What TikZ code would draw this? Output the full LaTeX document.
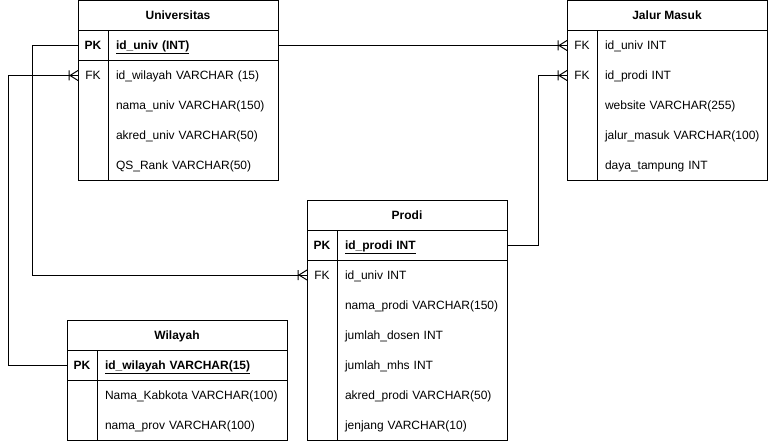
\documentclass[tikz,border=0pt,12pt]{standalone}
\usepackage{fontspec}
\setmainfont{Liberation Sans}
\usetikzlibrary{positioning}

\tikzset{
  crow/.pic={\draw (-9,-5) -- (-9,5) (-8,0) -- (0,-5) (-8,0) -- (0,5);}
}

\begin{document}
\begin{tikzpicture}[x=1pt,y=-1pt,line width=1pt,node distance=0pt,
    every node/.style={inner sep=0pt,outer sep=0pt,text height=10pt,text depth=2pt},
    head/.style={draw,anchor=north west,minimum width=200pt,minimum height=30pt,font=\bfseries},
    keyc/.style={minimum width=30pt,minimum height=30pt},
    fieldc/.style={minimum height=30pt,inner xsep=8pt,text width=154pt,align=left},
    wide/.style={text width=174pt}]
  \useasboundingbox (0,0) rectangle (768,441);

  % Universitas
  \node[head] (univ) at (78,0.5) {Universitas};
  \node[keyc,anchor=north west,font=\bfseries] (univ-pk-k) at (univ.south west) {PK};
  \node[fieldc] (univ-pk) [right=of univ-pk-k] {\textbf{\underline{id\_univ (INT)}}};
  \node[keyc]   (univ-f1-k) [below=of univ-pk-k] {FK};
  \node[fieldc] (univ-f1) [right=of univ-f1-k] {id\_wilayah VARCHAR (15)};
  \node[fieldc] (univ-f2) [below=of univ-f1] {nama\_univ VARCHAR(150)};
  \node[fieldc] (univ-f3) [below=of univ-f2] {akred\_univ VARCHAR(50)};
  \node[fieldc] (univ-f4) [below=of univ-f3] {QS\_Rank VARCHAR(50)};
  \draw (univ.south west) rectangle (univ-f4.south east);
  \draw (univ-pk-k.south west) -- (univ-pk.south east);
  \draw (univ-pk.north west) -- (univ-f4.south west);

  % Jalur Masuk
  \node[head] (jalur) at (567,0.5) {Jalur Masuk};
  \node[keyc,anchor=north west] (jalur-f1-k) at (jalur.south west) {FK};
  \node[fieldc] (jalur-f1) [right=of jalur-f1-k] {id\_univ INT};
  \node[keyc]   (jalur-f2-k) [below=of jalur-f1-k] {FK};
  \node[fieldc] (jalur-f2) [right=of jalur-f2-k] {id\_prodi INT};
  \node[fieldc] (jalur-f3) [below=of jalur-f2] {website VARCHAR(255)};
  \node[fieldc] (jalur-f4) [below=of jalur-f3] {\mbox{jalur\_masuk VARCHAR(100)}};
  \node[fieldc] (jalur-f5) [below=of jalur-f4] {daya\_tampung INT};
  \draw (jalur.south west) rectangle (jalur-f5.south east);
  \draw (jalur-f1.north west) -- (jalur-f5.south west);

  % Prodi
  \node[head] (prodi) at (307,200) {Prodi};
  \node[keyc,anchor=north west,font=\bfseries] (prodi-pk-k) at (prodi.south west) {PK};
  \node[fieldc] (prodi-pk) [right=of prodi-pk-k] {\textbf{\underline{id\_prodi INT}}};
  \node[keyc]   (prodi-f1-k) [below=of prodi-pk-k] {FK};
  \node[fieldc] (prodi-f1) [right=of prodi-f1-k] {id\_univ INT};
  \node[fieldc] (prodi-f2) [below=of prodi-f1] {nama\_prodi VARCHAR(150)};
  \node[fieldc] (prodi-f3) [below=of prodi-f2] {jumlah\_dosen INT};
  \node[fieldc] (prodi-f4) [below=of prodi-f3] {jumlah\_mhs INT};
  \node[fieldc] (prodi-f5) [below=of prodi-f4] {akred\_prodi VARCHAR(50)};
  \node[fieldc] (prodi-f6) [below=of prodi-f5] {jenjang VARCHAR(10)};
  \draw (prodi.south west) rectangle (prodi-f6.south east);
  \draw (prodi-pk-k.south west) -- (prodi-pk.south east);
  \draw (prodi-pk.north west) -- (prodi-f6.south west);

  % Wilayah
  \node[head,minimum width=220pt] (wil) at (67,320) {Wilayah};
  \node[keyc,anchor=north west,font=\bfseries] (wil-pk-k) at (wil.south west) {PK};
  \node[fieldc,wide] (wil-pk) [right=of wil-pk-k] {\textbf{\underline{id\_wilayah VARCHAR(15)}}};
  \node[fieldc,wide] (wil-f1) [below=of wil-pk] {Nama\_Kabkota VARCHAR(100)};
  \node[fieldc,wide] (wil-f2) [below=of wil-f1] {nama\_prov VARCHAR(100)};
  \draw (wil.south west) rectangle (wil-f2.south east);
  \draw (wil-pk-k.south west) -- (wil-pk.south east);
  \draw (wil-pk.north west) -- (wil-f2.south west);

  % relasi
  \draw (univ-pk.east) -- (jalur-f1-k.west) pic {crow};
  \draw (univ-pk-k.west) -- ++(-46,0) |- (prodi-f1-k.west) pic {crow};
  \draw (wil-pk-k.west) -- ++(-59,0) |- (univ-f1-k.west) pic {crow};
  \draw (prodi-pk.east) -- ++(31,0) |- (jalur-f2-k.west) pic {crow};
\end{tikzpicture}
\end{document}
